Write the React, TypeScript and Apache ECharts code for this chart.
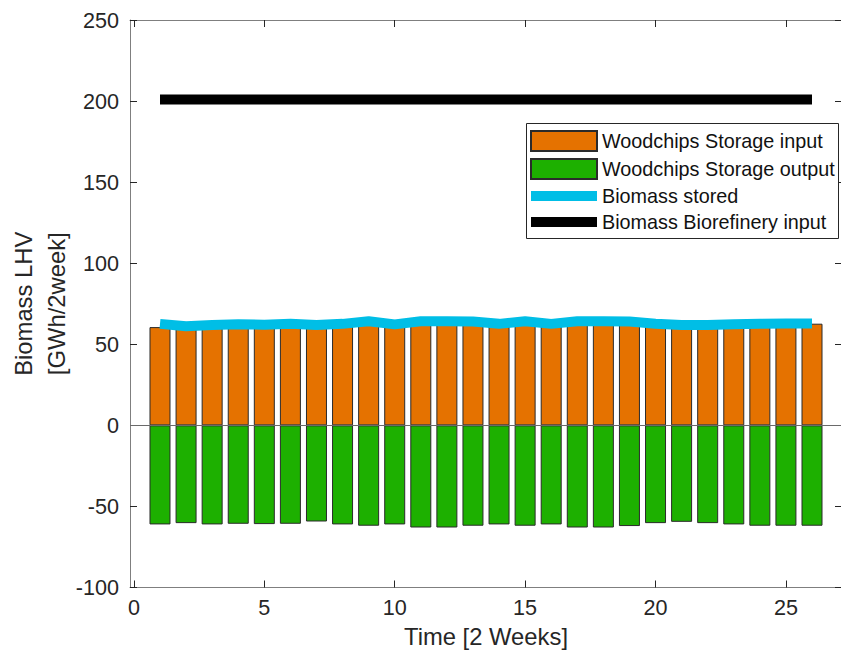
import React, { useEffect, useRef } from "react";
import * as echarts from "echarts";

const periods = [1, 2, 3, 4, 5, 6, 7, 8, 9, 10, 11, 12, 13, 14, 15, 16, 17, 18, 19, 20, 21, 22, 23, 24, 25, 26];
const storageInput = [60.6, 61, 61, 62, 61, 62, 61, 62, 62, 61, 62, 62, 62, 61, 62, 61, 62, 62, 62, 61, 61, 61, 61, 62, 62, 62.7];
const storageOutput = [-61.1, -60.3, -61.1, -60.7, -60.9, -60.7, -59.3, -61.1, -61.9, -61.1, -63.0, -63.0, -61.9, -61.1, -61.9, -61.1, -63.0, -63.0, -62.1, -60.3, -59.5, -60.3, -61.1, -61.9, -61.9, -61.9];
const biomassStored = [62.6, 61.1, 61.9, 62.3, 62.1, 62.6, 61.9, 62.6, 64.2, 62.3, 64.2, 64.2, 64.0, 62.6, 64.2, 62.6, 64.2, 64.2, 64.0, 62.6, 61.9, 61.9, 62.3, 62.6, 62.8, 62.8];
const biorefineryInput = [201, 201, 201, 201, 201, 201, 201, 201, 201, 201, 201, 201, 201, 201, 201, 201, 201, 201, 201, 201, 201, 201, 201, 201, 201, 201];
const xTicks = [0, 5, 10, 15, 20, 25];
const seriesNames = ["Woodchips Storage input", "Woodchips Storage output", "Biomass stored", "Biomass Biorefinery input"];
const xTitle = "Time [2 Weeks]";
const yTitle = "Biomass LHV\n[GWh/2week]";

const FONT = "Liberation Sans, Arial, Helvetica, sans-serif";
const TXT = "#262626";
const AX = "#7f7f7f";

export default function App() {
  const ref = useRef<HTMLDivElement>(null);
  useEffect(() => {
    if (!ref.current) return;
    const chart = echarts.init(ref.current, undefined, { renderer: "svg" });
    const pair = (arr: number[]) => periods.map((x, i) => [x, arr[i]]);
    const xBase = {
      type: "value" as const,
      min: -0.15,
      max: 27.15,
      splitLine: { show: false },
      axisLine: { show: true, onZero: false, lineStyle: { color: AX, width: 1 } },
    };
    const yBase = {
      type: "value" as const,
      min: -100,
      max: 250,
      interval: 50,
      splitLine: { show: false },
      axisLine: { show: true, onZero: false, lineStyle: { color: AX, width: 1 } },
    };
    chart.setOption({
      animation: false,
      backgroundColor: "#ffffff",
      textStyle: { fontFamily: FONT },
      grid: { left: 130, top: 20, width: 712, height: 567.5, containLabel: false, outerBoundsMode: "none" },
      graphic: [
        {
          type: "rect",
          z: 3,
          silent: true,
          shape: { x: 526.5, y: 123.5, width: 312, height: 115 },
          style: { fill: "#ffffff", stroke: TXT, lineWidth: 1 },
        },
      ],
      xAxis: [
        {
          ...xBase,
          position: "bottom",
          name: xTitle,
          nameLocation: "middle",
          nameGap: 37,
          nameMoveOverlap: false,
          nameTextStyle: { fontSize: 23.8, color: TXT, fontFamily: FONT },
          axisTick: { show: true, inside: true, length: 7, lineStyle: { color: TXT }, customValues: xTicks },
          axisLabel: { show: true, margin: 9, fontSize: 21.6, color: TXT, fontFamily: FONT, customValues: xTicks },
        },
        {
          ...xBase,
          position: "top",
          axisTick: { show: true, inside: true, length: 7, lineStyle: { color: TXT }, customValues: xTicks },
          axisLabel: { show: false },
        },
      ],
      yAxis: [
        {
          ...yBase,
          position: "left",
          name: yTitle,
          nameLocation: "middle",
          nameRotate: 90,
          nameGap: 57,
          nameMoveOverlap: false,
          nameTextStyle: { fontSize: 23.8, lineHeight: 33, color: TXT, fontFamily: FONT },
          axisTick: { show: true, inside: true, length: 7, lineStyle: { color: TXT } },
          axisLabel: { show: true, margin: 11, fontSize: 21.6, color: TXT, fontFamily: FONT },
        },
        {
          ...yBase,
          position: "right",
          axisTick: { show: true, inside: true, length: 7, lineStyle: { color: TXT } },
          axisLabel: { show: false },
        },
      ],
      legend: {
        orient: "vertical",
        left: 526,
        top: 123,
        z: 4,
        padding: [7, 0, 6, 0],
        itemWidth: 66,
        itemHeight: 20,
        itemGap: 6,
        itemTextGap: 6,
        borderWidth: 0,
        backgroundColor: "transparent",
        textStyle: { fontSize: 19.8, color: "#111", fontFamily: FONT },
        data: [
          { name: seriesNames[0], icon: "rect" },
          { name: seriesNames[1], icon: "rect" },
          { name: seriesNames[2], itemStyle: { opacity: 0 }, lineStyle: { width: 10, cap: "butt", opacity: 1 } },
          { name: seriesNames[3], itemStyle: { opacity: 0 }, lineStyle: { width: 10, cap: "butt", opacity: 1 } },
        ],
      },
      series: [
        {
          name: seriesNames[0],
          type: "bar",
          xAxisIndex: 0,
          yAxisIndex: 0,
          data: pair(storageInput),
          barWidth: 21,
          barGap: "-100%",
          itemStyle: { color: "#e57200", borderColor: "#2b2b2b", borderWidth: 1 },
        },
        {
          name: seriesNames[1],
          type: "bar",
          xAxisIndex: 0,
          yAxisIndex: 0,
          data: pair(storageOutput),
          barWidth: 21,
          barGap: "-100%",
          itemStyle: { color: "#1db000", borderColor: "#2b2b2b", borderWidth: 1 },
          markLine: {
            silent: true,
            symbol: ["none", "none"],
            label: { show: false },
            lineStyle: { color: "#6a6a6a", width: 1, type: "solid" },
            data: [{ yAxis: 0 }],
          },
        },
        {
          name: seriesNames[2],
          type: "line",
          xAxisIndex: 0,
          yAxisIndex: 0,
          data: pair(biomassStored),
          symbol: "none",
          showSymbol: false,
          lineStyle: { color: "#00bee6", width: 10, cap: "butt" },
          itemStyle: { color: "#00bee6" },
          z: 5,
        },
        {
          name: seriesNames[3],
          type: "line",
          xAxisIndex: 0,
          yAxisIndex: 0,
          data: pair(biorefineryInput),
          symbol: "none",
          showSymbol: false,
          lineStyle: { color: "#000000", width: 10, cap: "butt" },
          itemStyle: { color: "#000000" },
          z: 5,
        },
      ],
    });
    return () => chart.dispose();
  }, []);
  return (
    <div
      ref={ref}
      style={{ position: "fixed", left: 0, top: 0, width: 841, height: 654, background: "#fff" }}
    />
  );
}
